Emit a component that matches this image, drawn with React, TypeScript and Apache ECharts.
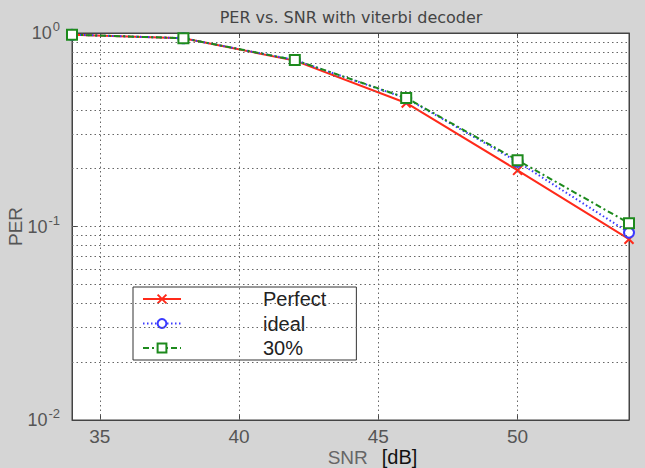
import React, { useEffect, useRef } from "react";
import * as echarts from "echarts";

const snr = [34, 38, 42, 46, 50, 54];
const perfect = [0.98, 0.94, 0.72, 0.435, 0.195, 0.086];
const ideal = [0.98, 0.94, 0.725, 0.46, 0.216, 0.093];
const thirty = [0.98, 0.94, 0.725, 0.462, 0.22, 0.104];
const seriesNames = ["Perfect", "ideal", "30%"];
const xTicks = [35, 40, 45, 50];
const yMinorGrid = [0.02, 0.03, 0.04, 0.05, 0.06, 0.07, 0.08, 0.09, 0.2, 0.3, 0.4, 0.5, 0.6, 0.7, 0.8, 0.9];
const yMajorGrid = [0.1];

const pair = (ys: number[]) => snr.map((x, i) => [x, ys[i]]);

export default function App() {
  const ref = useRef<HTMLDivElement>(null);
  useEffect(() => {
    document.body.style.margin = "0";
    const chart = echarts.init(ref.current!, undefined, { renderer: "svg" });
    const gridStyle = { color: "#666", width: 1, type: [1.5, 3] as any };
    const tickFont = "Liberation Sans, Arial, sans-serif";
    chart.setOption({
      animation: false,
      backgroundColor: "#d5d5d5",
      title: {
        text: "PER vs. SNR with viterbi decoder",
        left: 346,
        textAlign: "center",
        top: 4,
        textStyle: { fontFamily: "DejaVu Sans", fontSize: 16, fontWeight: "normal", color: "#444" },
      },
      grid: {
        left: 72,
        top: 33,
        width: 557,
        height: 387,
        show: true,
        containLabel: false,
        outerBoundsMode: "none",
        backgroundColor: "#fff",
        borderColor: "#444",
        borderWidth: 1,
      },
      legend: {
        data: seriesNames,
        orient: "vertical",
        left: 133,
        top: 287,
        backgroundColor: "#fff",
        borderColor: "#333",
        borderWidth: 1,
        borderRadius: 0,
        padding: [2, 30, 2, 9],
        itemWidth: 38,
        itemHeight: 11,
        itemGap: 4.5,
        formatter: (n: string) => `{t|${n}}`,
        textStyle: {
          rich: {
            t: { fontFamily: tickFont, fontSize: 20, color: "#222", padding: [0, 0, 0, 77] },
          },
        },
      },
      xAxis: [
        {
          type: "value",
          min: 34,
          max: 54,
          name: "{a|SNR}{b|[dB]}",
          nameLocation: "middle",
          nameGap: 27,
          nameMoveOverlap: false,
          nameTextStyle: {
            rich: {
              a: { fontFamily: tickFont, fontSize: 19, color: "#666", padding: [0, 0, 0, 44] },
              b: { fontFamily: tickFont, fontSize: 20, color: "#111", padding: [0, 0, 0, 14] },
            },
          },
          axisLine: { show: true, lineStyle: { color: "#444" } },
          axisTick: { show: true, inside: true, length: 5, customValues: xTicks, lineStyle: { color: "#444" } },
          axisLabel: { customValues: xTicks, margin: 7, fontFamily: tickFont, fontSize: 19, color: "#555" },
          splitLine: { show: false },
        },
        {
          type: "value",
          min: 34,
          max: 54,
          position: "top",
          axisLine: { show: true, lineStyle: { color: "#444" } },
          axisTick: { show: true, inside: true, length: 5, customValues: xTicks, lineStyle: { color: "#444" } },
          axisLabel: { show: false },
          splitLine: { show: false },
        },
      ],
      yAxis: [
        {
          type: "log",
          logBase: 10,
          min: 0.01,
          max: 1,
          name: "PER",
          nameLocation: "middle",
          nameGap: 47,
          nameMoveOverlap: false,
          nameTextStyle: { fontFamily: tickFont, fontSize: 19, color: "#555" },
          axisLine: { show: true, lineStyle: { color: "#444" } },
          axisTick: { show: true, inside: true, length: 6, lineStyle: { color: "#444" } },
          axisLabel: {
            margin: 12,
            formatter: (v: number) => `{b|10}{s|${Math.round(Math.log10(v))}}`,
            rich: {
              b: { fontFamily: tickFont, fontSize: 18, color: "#555" },
              s: { fontFamily: tickFont, fontSize: 13, color: "#555", padding: [0, 0, 13, 1] },
            },
          },
          splitLine: { show: false },
        },
        {
          type: "log",
          logBase: 10,
          min: 0.01,
          max: 1,
          position: "right",
          axisLine: { show: true, lineStyle: { color: "#444" } },
          axisTick: { show: true, inside: true, length: 6, lineStyle: { color: "#444" } },
          axisLabel: { show: false },
          splitLine: { show: false },
        },
      ],
      series: [
        {
          name: "gridlines",
          type: "line",
          data: [],
          z: 1,
          silent: true,
          markLine: {
            silent: true,
            symbol: "none",
            label: { show: false },
            lineStyle: gridStyle,
            emphasis: { disabled: true },
            data: [
              ...xTicks.map((v) => ({ xAxis: v })),
              ...yMajorGrid.map((v) => ({ yAxis: v })),
              ...yMinorGrid.map((v) => ({ yAxis: v })),
            ],
          },
        },
        {
          name: seriesNames[0],
          type: "line",
          z: 3,
          data: pair(perfect),
          symbol: "path://M0,0L10,10M10,0L0,10",
          symbolSize: 9,
          lineStyle: { color: "#ff2a1a", width: 2, type: "solid" },
          itemStyle: { color: "#ff2a1a", borderColor: "#ff2a1a", borderWidth: 2 },
        },
        {
          name: seriesNames[1],
          type: "line",
          z: 4,
          data: pair(ideal),
          symbol: "emptyCircle",
          symbolSize: 10,
          lineStyle: { color: "#3a3aff", width: 2, type: [1.5, 2.5] },
          itemStyle: { color: "#3a3aff", borderColor: "#3a3aff", borderWidth: 2 },
        },
        {
          name: seriesNames[2],
          type: "line",
          z: 5,
          data: pair(thirty),
          symbol: "emptyRect",
          symbolSize: 10,
          lineStyle: { color: "#1d8a1d", width: 2, type: [6, 3, 2, 3] },
          itemStyle: { color: "#1d8a1d", borderColor: "#1d8a1d", borderWidth: 2 },
        },
      ],
    });
    return () => chart.dispose();
  }, []);
  return <div ref={ref} style={{ width: 645, height: 468 }} />;
}
